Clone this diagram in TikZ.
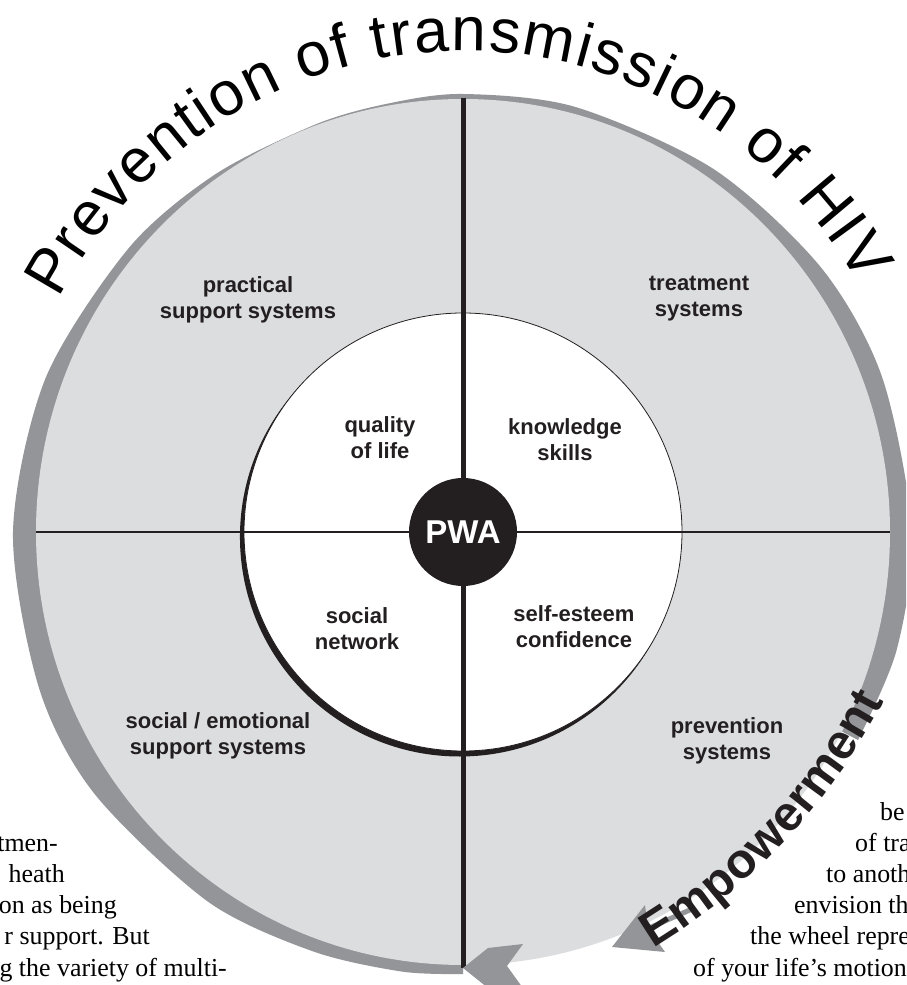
\documentclass[tikz,border=0pt]{standalone}
\usepackage{fontspec}
\usetikzlibrary{decorations.text}
\newfontfamily\hvfont{Liberation Sans}
\newfontfamily\bodyfont{Liberation Serif}
\definecolor{ink}{RGB}{35,31,32}
\definecolor{wheelfill}{RGB}{220,221,223}
\definecolor{rimgray}{RGB}{147,149,152}

\begin{document}
\begin{tikzpicture}[x=1pt,y=1pt,
  sector/.style={font=\hvfont\bfseries\fontsize{22}{26}\selectfont, align=center, text=ink, inner sep=0},
  bodyline/.style={font=\bodyfont\fontsize{25.9}{31}\selectfont, text=black, inner sep=0},
  spoke/.style={draw=ink, line width=5},
  arrowpart/.style={fill=rimgray},
]
\useasboundingbox (0,0) rectangle (906,985);
\fill[white] (0,0) rectangle (906,985);
\clip (0,0) rectangle (906,985);

% tapered grey rim behind the wheel
\fill[rimgray] plot[smooth] coordinates {(858,245) (896.7,335.2) (912,453) (882.2,607.6)
  (821.4,717) (713.8,815.8) (575.4,878) (463,891) (388.4,881.5) (316.6,861) (215.6,810.9)
  (129,737.2) (45.6,606.9) (13,453) (39.1,296.7) (94.4,191.3) (207.6,83.6) (312.5,33.8)
  (402.1,13.4) (463,11)} -- (463,453) -- cycle;

% outer wheel
\fill[wheelfill] (463,453) ellipse [x radius=427, y radius=433];

% inner disc with a heavier lower-left rim
\fill[ink] (459.56,448.09) circle [radius=219.6];
\filldraw[fill=white, draw=ink, line width=0.8] (463,453) circle [radius=219];

% hub and spokes
\coordinate (rimN) at (463,887);
\coordinate (rimS) at (463,17);
\coordinate (rimW) at (36,453);
\coordinate (rimE) at (890,453);
\node[circle, fill=ink, minimum size=108, inner sep=0, text=white,
      font=\hvfont\bfseries\fontsize{33}{33}\selectfont] (pwa) at (463,453) {PWA};
\draw[spoke] (rimN) -- (pwa);
\draw[spoke] (pwa) -- (rimS);
\draw[draw=ink, line width=2.4] (rimW) -- (pwa);
\draw[draw=ink, line width=1.1] (pwa) -- (rimE);

% sector labels
\node[sector] (practical) at (248,685.5) {practical\\support systems};
\node[sector] (treatment) at (699,686) {treatment\\systems};
\node[sector] (quality) at (380,547) {quality\\of life};
\node[sector] (knowledge) at (565,545) {knowledge\\skills};
\node[sector] (network) at (357,356.5) {social\\network};
\node[sector] (esteem) at (574,358.5) {self-esteem\\confidence};
\node[sector] (emotional) at (218,249) {social / emotional\\support systems};
\node[sector] (prevention) at (727,244) {prevention\\systems};

% arrowhead at the foot of the wheel
\fill[arrowpart] (463,17) -- (488,37) -- (523,41) -- (507,19) -- (525,-6) -- (488,-3) -- cycle;

% empowerment arrow
\coordinate (emptail) at (692,76);
\coordinate (empnotch) at (647,56);
\draw[rimgray, line width=5] (emptail) -- (empnotch);
\fill[arrowpart] (612,38) -- (645,80) -- (648,57) -- (665,33) -- cycle;
\path[decorate, decoration={text along path,
      text={|\hvfont\bfseries\fontsize{49}{52}\selectfont\color{ink}|Empowerment},
      text align=fit to path}]
  (653,37) .. controls (751,97) and (828,178) .. (884,284);

% title around the top
\path[decorate, decoration={text along path,
      text={|\hvfont\fontsize{62}{66}\selectfont|Prevention of transmission of HIV},
      text align=fit to path}]
  (58.9,686.2) arc[start angle=151, end angle=31, x radius=462, y radius=481];

% surrounding body text, left column
\node[bodyline, anchor=base east] (left1) at (58,133) {tmen-};
\node[bodyline, anchor=base east] (left2) at (65,102) {heath};
\node[bodyline, anchor=base east] (left3) at (117,71) {on as being};
\node[bodyline, anchor=base east] (left4) at (150,40) {r support. But};
\node[bodyline, anchor=base east] (left5) at (227,9) {g the variety of multi-};

% surrounding body text, right column
\node[bodyline, anchor=base west] (right1) at (880,164) {be};
\node[bodyline, anchor=base west] (right2) at (855,133) {of tra};
\node[bodyline, anchor=base west] (right3) at (826,102) {to anoth};
\node[bodyline, anchor=base west] (right4) at (794,71) {envision th};
\node[bodyline, anchor=base west] (right5) at (750,40) {the wheel repre};
\node[bodyline, anchor=base west] (right6) at (693,9) {of your life’s motion};
\end{tikzpicture}
\end{document}
